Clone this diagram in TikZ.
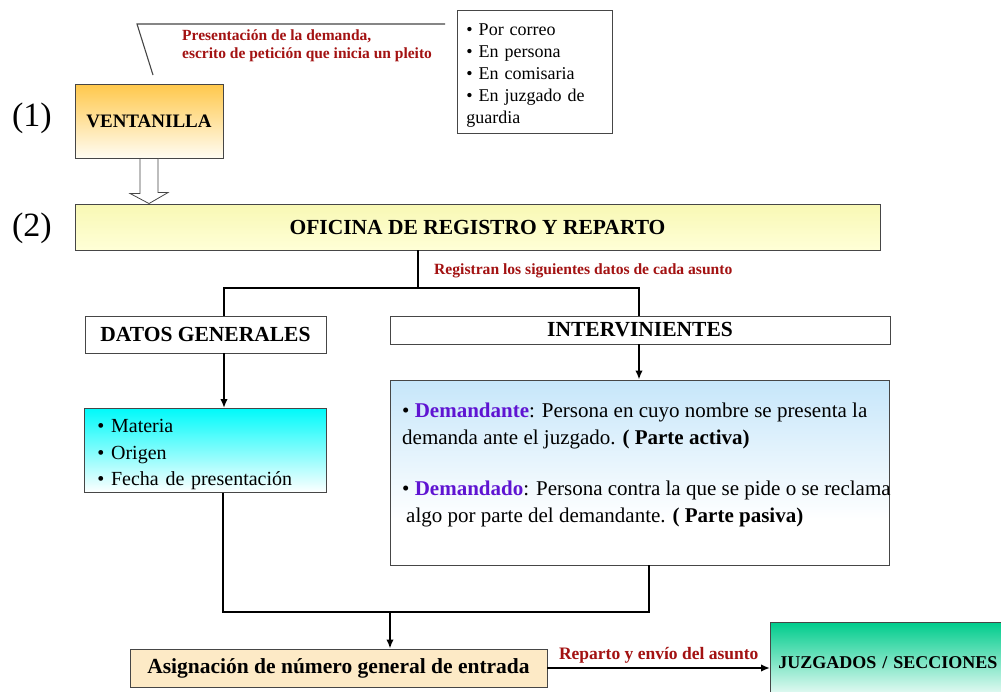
\documentclass[tikz,border=0pt]{standalone}
\usepackage{fontspec}
\setmainfont{Liberation Serif}
\usetikzlibrary{arrows.meta,calc}
\definecolor{lblred}{RGB}{163,18,18}
\definecolor{purp}{RGB}{95,20,210}
\definecolor{bdr}{RGB}{70,70,70}
\definecolor{ventop}{RGB}{255,200,75}
\definecolor{venbot}{RGB}{255,252,242}
\definecolor{ofitop}{RGB}{248,248,180}
\definecolor{ofibot}{RGB}{255,255,215}
\definecolor{cyantop}{RGB}{0,250,250}
\definecolor{bluetop}{RGB}{198,230,250}
\definecolor{asignfill}{RGB}{253,234,198}
\definecolor{juzgtop}{RGB}{0,204,140}
\pgfdeclareverticalshading{bluefade}{100bp}{color(0bp)=(white); color(37bp)=(white); color(75bp)=(bluetop); color(100bp)=(bluetop)}
\begin{document}
\begin{tikzpicture}[x=1pt,y=-1pt,
  box/.style={draw=bdr, line width=0.9pt, rectangle, inner sep=0pt},
  title/.style={font=\fontsize{21.5}{24}\selectfont\bfseries},
  conn/.style={line width=2.4pt, line join=miter},
  arr/.style={conn, -{Latex[length=9pt,width=7.5pt]}},
  redlbl/.style={text=lblred, inner sep=0pt},
  num/.style={font=\fontsize{34}{38}\selectfont, inner sep=0pt},
]
\clip (0,0) rectangle (1001,691);
\fill[white] (0,0) rectangle (1001,691);

% step numbers
\node[num] (n1) at (32,118) {(1)};
\node[num] (n2) at (32,228) {(2)};

% boxes
\node[box, font=\fontsize{19}{22}\selectfont\bfseries, minimum width=148pt, minimum height=74pt,
      top color=ventop, bottom color=venbot] (ventanilla) at (149,121) {VENTANILLA};

\node[box, fill=white, anchor=north west, align=left, text width=137pt, inner xsep=9pt,
      inner ysep=4pt, minimum height=123pt, font=\fontsize{18}{22}\selectfont] (lista) at (457,10)
  {\rule{0pt}{19pt}• Por correo\\• En persona\\• En comisaria\\• En juzgado de\\guardia};

\node[redlbl, anchor=west, align=left, font=\fontsize{15.5}{18}\selectfont\bfseries] (lblpres) at (182,45.5)
  {Presentación de la demanda,\\escrito de petición que inicia un pleito};

\node[box, title, minimum width=805pt, minimum height=46pt, top color=ofitop, bottom color=ofibot]
  (oficina) at (477.5,227) {OFICINA DE REGISTRO Y REPARTO};

\node[redlbl, anchor=west, font=\fontsize{15.6}{18}\selectfont\bfseries] (lblreg) at (434,271)
  {Registran los siguientes datos de cada asunto};

\node[box, title, fill=white, minimum width=241pt, minimum height=37pt] (datos) at (205.5,334.5) {DATOS GENERALES};
\node[box, title, fill=white, minimum width=500pt, minimum height=28pt] (interv) at (640,330) {INTERVINIENTES};

\node[box, anchor=north west, text width=216pt, inner xsep=13pt, minimum height=84pt, align=left,
      top color=cyantop, bottom color=white, font=\fontsize{20}{26.5}\selectfont] (cyanbox) at (84,408)
  {\rule{0pt}{22pt}• Materia\\• Origen\\• Fecha de presentación};

\node[box, minimum width=499pt, minimum height=185pt, shade, shading=bluefade] (blue) at (639.5,472.5) {};
\node[anchor=north west, align=left, inner sep=0pt, font=\fontsize{21}{27}\selectfont] (bluetext) at (402,402.5)
  {• \textcolor{purp}{\bfseries Demandante}: Persona en cuyo nombre se presenta la\\
   demanda ante el juzgado. {\bfseries ( Parte activa)}\\[24pt]
   • \textcolor{purp}{\bfseries Demandado}: Persona contra la que se pide o se reclama\\
   \hspace*{4pt}algo por parte del demandante. {\bfseries ( Parte pasiva)}};

\node[box, font=\fontsize{21.5}{24}\selectfont\bfseries, minimum width=417pt, minimum height=38pt, fill=asignfill]
  (asign) at (338.5,668) {Asignación de número general de entrada};

\node[box, anchor=north west, text width=232pt, inner xsep=8pt, minimum height=80pt, align=left,
      top color=juzgtop, bottom color=white, font=\fontsize{18}{22}\selectfont\bfseries]
  (juzg) at (770,622) {JUZGADOS / SECCIONES};

% callout line
\coordinate (cA) at (153,75);
\coordinate (cB) at (137,24);
\coordinate (cC) at (445,24);
\draw[bdr, line width=1.1pt] (cA) -- (cB) -- (cC);

% hollow arrow
\draw[draw=bdr, fill=white, line width=0.8pt]
  ([xshift=-9pt]ventanilla.south) -- ++(0,35) -- ++(-10,0) -- (ventanilla.south |- oficina.north)
  -- ++(19,-11) -- ++(-10,0) -- ([xshift=9pt]ventanilla.south) -- cycle;

% connectors
\coordinate (split) at (418,288);
\coordinate (bl) at (224,288);
\coordinate (br) at (639,288);
\draw[conn] (split |- oficina.south) -- (split);
\draw[conn] (bl |- datos.north) -- (bl) -- (br) -- (br |- interv.north);
\draw[arr] (bl |- datos.south) -- (bl |- cyanbox.north);
\draw[arr] (br |- interv.south) -- (br |- blue.north);
\coordinate (jl) at (223,612);
\coordinate (jr) at (649,612);
\coordinate (jm) at (390,612);
\draw[conn] (jl |- cyanbox.south) -- (jl) -- (jr) -- (jr |- blue.south);
\draw[arr] (jm) -- (jm |- asign.north);
\draw[arr] (asign.east) -- (asign.east -| juzg.west)
  node[midway, above=4pt, redlbl, font=\fontsize{17.5}{20}\selectfont\bfseries] (lblrep) {Reparto y envío del asunto};
\end{tikzpicture}
\end{document}
